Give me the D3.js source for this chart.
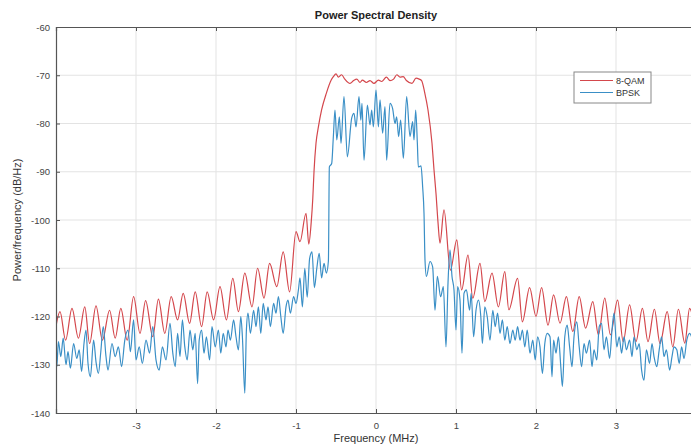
<!DOCTYPE html>
<html><head><meta charset="utf-8">
<script src="https://cdn.jsdelivr.net/npm/d3@7"></script>
<style>
body{margin:0;background:#fff;}
svg{display:block;font-family:"Liberation Sans",Arial,Helvetica,sans-serif;}
</style></head>
<body><svg id="c" width="691" height="448"></svg>
<script>
const xTicks = [-3,-2,-1,0,1,2,3];
const yTicks = [-140,-130,-120,-110,-100,-90,-80,-70,-60];
const seriesNames = ["8-QAM","BPSK"];

const qamFreq = [-4.0,-3.95,-3.88,-3.80,-3.72,-3.64,-3.58,-3.50,-3.42,-3.33,-3.26,-3.19,-3.11,-3.03,-2.95,-2.88,-2.79,-2.72,-2.64,-2.56,-2.48,-2.41,-2.33,-2.26,-2.18,-2.11,-2.03,-1.95,-1.87,-1.79,-1.72,-1.64,-1.55,-1.48,-1.40,-1.33,-1.24,-1.16,-1.08,-1.00,-0.95,-0.875,-0.84,-0.81,-0.79,-0.775,-0.75,-0.72,-0.68,-0.62,-0.56,-0.533,-0.5,-0.47,-0.43,-0.39,-0.325,-0.28,-0.24,-0.2,-0.17,-0.12,-0.075,-0.025,0.03,0.07,0.13,0.175,0.22,0.26,0.3,0.34,0.38,0.45,0.5,0.54,0.57,0.61,0.65,0.70,0.725,0.75,0.775,0.80,0.85,0.93,1.01,1.07,1.15,1.21,1.30,1.36,1.45,1.53,1.61,1.66,1.77,1.83,1.92,2.00,2.07,2.15,2.22,2.30,2.38,2.46,2.54,2.62,2.71,2.78,2.86,2.93,3.02,3.09,3.17,3.25,3.33,3.40,3.48,3.55,3.64,3.71,3.78,3.86,3.92,3.97];
const qamDb = [-122.0,-119.0,-124.9,-118.3,-124.5,-118.0,-125.6,-117.8,-124.9,-118.7,-124.5,-118.3,-124.9,-115.9,-123.5,-116.7,-124.2,-116.4,-123.5,-115.9,-120.7,-115.2,-121.4,-114.9,-122.1,-114.9,-120.7,-113.8,-120.7,-112.1,-119.0,-111.0,-118.0,-110.0,-116.2,-109.0,-113.8,-106.6,-114.9,-102.4,-104.5,-98.6,-105.0,-100.5,-95.5,-90.0,-84.1,-80.7,-77.2,-73.7,-71.0,-70.3,-69.7,-70.4,-69.9,-70.8,-71.7,-71.1,-70.8,-71.5,-71.0,-71.5,-71.1,-71.7,-71.0,-71.3,-70.4,-71.1,-70.8,-69.9,-70.4,-70.3,-71.1,-71.7,-70.6,-70.8,-71.1,-73.7,-77.2,-84.1,-89.6,-94.5,-100.5,-104.8,-97.9,-110.4,-104.1,-114.5,-107.3,-116.2,-109.0,-116.9,-111.0,-118.0,-110.7,-118.6,-112.1,-121.1,-114.0,-120.0,-114.0,-121.8,-115.5,-121.4,-115.9,-123.1,-115.9,-122.4,-116.9,-123.8,-116.2,-123.8,-116.6,-125.2,-117.6,-125.2,-118.3,-125.2,-118.5,-125.6,-119.0,-126.3,-118.5,-125.5,-118.3,-121.0];

const bpskFreq = [-4.0,-3.99,-3.97,-3.94,-3.91,-3.875,-3.85,-3.82,-3.78,-3.74,-3.71,-3.68,-3.65,-3.625,-3.6,-3.57,-3.53,-3.5,-3.47,-3.44,-3.41,-3.375,-3.35,-3.30,-3.26,-3.22,-3.18,-3.14,-3.10,-3.07,-3.03,-3.0,-2.96,-2.92,-2.875,-2.83,-2.79,-2.75,-2.71,-2.67,-2.625,-2.575,-2.54,-2.51,-2.48,-2.45,-2.42,-2.39,-2.36,-2.325,-2.29,-2.26,-2.23,-2.21,-2.18,-2.15,-2.12,-2.08,-2.05,-2.01,-1.97,-1.94,-1.91,-1.875,-1.85,-1.82,-1.78,-1.75,-1.72,-1.69,-1.67,-1.64,-1.62,-1.6,-1.57,-1.53,-1.5,-1.47,-1.44,-1.41,-1.375,-1.35,-1.32,-1.28,-1.25,-1.22,-1.19,-1.16,-1.125,-1.1,-1.07,-1.03,-1.0,-0.97,-0.95,-0.92,-0.89,-0.86,-0.83,-0.80,-0.77,-0.74,-0.71,-0.68,-0.65,-0.62,-0.595,-0.583,-0.554,-0.533,-0.5125,-0.49,-0.458,-0.4375,-0.4,-0.358,-0.304,-0.275,-0.25,-0.2125,-0.19,-0.175,-0.15,-0.108,-0.075,-0.054,-0.033,0.0,0.03,0.05,0.083,0.1125,0.133,0.175,0.208,0.2375,0.258,0.283,0.308,0.342,0.383,0.425,0.458,0.475,0.496,0.517,0.529,0.5625,0.583,0.6,0.6125,0.63,0.675,0.708,0.7375,0.767,0.808,0.842,0.875,0.9,0.925,0.95,0.975,1.0,1.02,1.05,1.075,1.1,1.13,1.17,1.19,1.22,1.25,1.28,1.31,1.33,1.36,1.39,1.425,1.46,1.49,1.52,1.55,1.58,1.61,1.64,1.675,1.71,1.74,1.77,1.8,1.83,1.86,1.89,1.925,1.96,1.99,2.02,2.05,2.08,2.11,2.14,2.175,2.2,2.22,2.25,2.28,2.31,2.33,2.36,2.39,2.42,2.45,2.475,2.51,2.54,2.57,2.6,2.63,2.67,2.7,2.725,2.76,2.79,2.82,2.85,2.88,2.92,2.95,2.975,3.01,3.04,3.07,3.1,3.13,3.17,3.2,3.225,3.26,3.29,3.32,3.35,3.38,3.42,3.45,3.475,3.51,3.54,3.57,3.6,3.63,3.67,3.7,3.725,3.76,3.79,3.82,3.85,3.885,3.92,3.96];
const bpskDb = [-126.2,-130.4,-125.2,-128.3,-124.5,-130.0,-127.3,-130.7,-125.6,-128.7,-126.9,-131.4,-125.6,-122.8,-129.7,-132.5,-124.9,-129.4,-131.8,-127.3,-122.1,-128.3,-131.1,-125.6,-128.3,-126.3,-130.4,-124.9,-122.8,-127.3,-120.7,-129.0,-126.3,-129.7,-124.9,-127.6,-122.1,-129.0,-131.1,-126.3,-129.0,-121.4,-127.6,-130.4,-123.5,-128.3,-120.7,-126.3,-129.0,-122.8,-126.9,-123.5,-133.9,-124.9,-122.8,-127.6,-124.2,-129.0,-122.1,-126.3,-122.8,-127.6,-123.5,-126.3,-122.8,-124.9,-120.7,-124.2,-126.9,-120.0,-124.2,-135.9,-122.8,-119.3,-123.5,-118.7,-122.1,-118.0,-123.5,-117.3,-120.7,-118.0,-122.1,-117.3,-119.3,-115.9,-120.0,-123.5,-118.0,-116.6,-119.3,-115.9,-117.3,-114.5,-112.0,-118.0,-110.0,-116.0,-108.0,-106.6,-114.0,-110.0,-106.9,-112.0,-109.0,-111.0,-108.5,-89.0,-88.3,-82.7,-77.2,-83.4,-78.6,-84.1,-74.4,-86.9,-78.9,-77.9,-80.7,-74.4,-79.3,-75.8,-87.6,-76.2,-80.3,-77.2,-80.7,-73.1,-80.7,-75.1,-82.0,-76.5,-87.6,-75.8,-76.9,-80.0,-78.6,-82.7,-79.3,-87.2,-74.4,-82.7,-79.6,-83.4,-77.2,-84.1,-89.0,-88.8,-93.1,-98.6,-108.3,-111.7,-108.6,-109.7,-118.7,-111.7,-115.9,-113.8,-126.3,-113.1,-106.2,-111.7,-114.5,-122.8,-113.8,-116.6,-127.6,-115.2,-114.5,-118.7,-115.2,-124.2,-118.7,-116.6,-120.0,-125.6,-118.0,-120.0,-124.9,-118.7,-122.1,-119.3,-123.5,-120.7,-124.9,-122.1,-125.6,-122.8,-124.9,-122.1,-124.9,-122.8,-126.3,-122.8,-127.6,-124.9,-129.0,-124.2,-126.3,-131.8,-125.6,-123.5,-124.2,-132.5,-124.9,-127.6,-124.2,-130.4,-134.5,-124.2,-121.8,-126.3,-130.4,-124.2,-121.1,-126.3,-130.4,-125.6,-127.6,-124.9,-130.4,-126.9,-129.0,-122.1,-121.4,-126.9,-124.2,-128.7,-122.8,-119.3,-126.3,-124.2,-127.6,-124.2,-126.9,-124.9,-128.3,-124.2,-126.9,-125.6,-131.1,-133.2,-126.9,-129.7,-125.6,-128.3,-130.4,-126.9,-124.2,-128.3,-126.9,-131.1,-128.3,-126.3,-126.9,-129.7,-126.3,-128.7,-124.9,-123.5,-125.0];

const colors = ["#d4474c","#3a8fc6"];

const svg = d3.select("#c");
const L = 56, R = 696, T = 27, B = 413;
const x = d3.scaleLinear().domain([-4,4]).range([L,R]);
const y = d3.scaleLinear().domain([-140,-60]).range([B,T]);

svg.append("defs").append("clipPath").attr("id","clip")
  .append("rect").attr("x",L).attr("y",T).attr("width",R-L).attr("height",B-T);

// grid
const grid = svg.append("g").attr("stroke","#e3e3e3").attr("stroke-width",1);
xTicks.forEach(v=>grid.append("line").attr("x1",x(v)).attr("x2",x(v)).attr("y1",T).attr("y2",B));
yTicks.slice(1,-1).forEach(v=>grid.append("line").attr("x1",L).attr("x2",R).attr("y1",y(v)).attr("y2",y(v)));

// lines
const mk = (fx,fy)=>fx.map((f,i)=>[f,fy[i]]);
const line = d3.line().x(d=>x(d[0])).y(d=>y(d[1])).curve(d3.curveMonotoneX);
const g = svg.append("g").attr("clip-path","url(#clip)");
g.append("path").datum(mk(qamFreq,qamDb)).attr("d",line).attr("fill","none")
  .attr("stroke",colors[0]).attr("stroke-width",1.2);
g.append("path").datum(mk(bpskFreq,bpskDb)).attr("d",line).attr("fill","none")
  .attr("stroke",colors[1]).attr("stroke-width",1.2);

// axes
const axCol = "#555";
const xa = svg.append("g").attr("transform",`translate(0,${B})`)
  .call(d3.axisBottom(x).tickValues(xTicks).tickSize(-4).tickPadding(9).tickFormat(d3.format("d")));
const xt = svg.append("g").attr("transform",`translate(0,${T})`)
  .call(d3.axisTop(x).tickValues(xTicks).tickSize(-4).tickFormat(""));
const ya = svg.append("g").attr("transform",`translate(${L},0)`)
  .call(d3.axisLeft(y).tickValues(yTicks).tickSize(-4).tickPadding(6).tickFormat(d3.format("d")));
[xa,xt,ya].forEach(a=>{
  a.select(".domain").attr("stroke",axCol).attr("stroke-width",1.2);
  a.selectAll(".tick line").attr("stroke",axCol);
  a.selectAll("text").attr("fill","#444").attr("font-size",9.5).attr("font-family","Liberation Sans, Arial, sans-serif");
});
xa.selectAll(".tick text").text(d=>d<0?"-"+Math.abs(d):d);
ya.selectAll(".tick text").text(d=>"-"+Math.abs(d));

// title & labels
svg.append("text").attr("x",(L+R)/2).attr("y",19).attr("text-anchor","middle")
  .attr("font-size",11).attr("font-weight","bold").attr("fill","#222").text("Power Spectral Density");
svg.append("text").attr("x",(L+R)/2).attr("y",442).attr("text-anchor","middle")
  .attr("font-size",11).attr("fill","#333").text("Frequency (MHz)");
svg.append("text").attr("transform",`translate(21,${(T+B)/2}) rotate(-90)`).attr("text-anchor","middle")
  .attr("font-size",11).attr("fill","#333").text("Power/frequency (dB/Hz)");

// legend
const lg = svg.append("g");
lg.append("rect").attr("x",574).attr("y",72).attr("width",77).attr("height",31)
  .attr("fill","#fff").attr("stroke","#888").attr("stroke-width",1);
seriesNames.forEach((n,i)=>{
  const yy = 80.5 + i*12;
  lg.append("line").attr("x1",580).attr("x2",613).attr("y1",yy).attr("y2",yy)
    .attr("stroke",colors[i]).attr("stroke-width",1.2);
  lg.append("text").attr("x",616).attr("y",yy+3.3).attr("font-size",9).attr("fill","#333").text(n);
});
</script></body></html>
